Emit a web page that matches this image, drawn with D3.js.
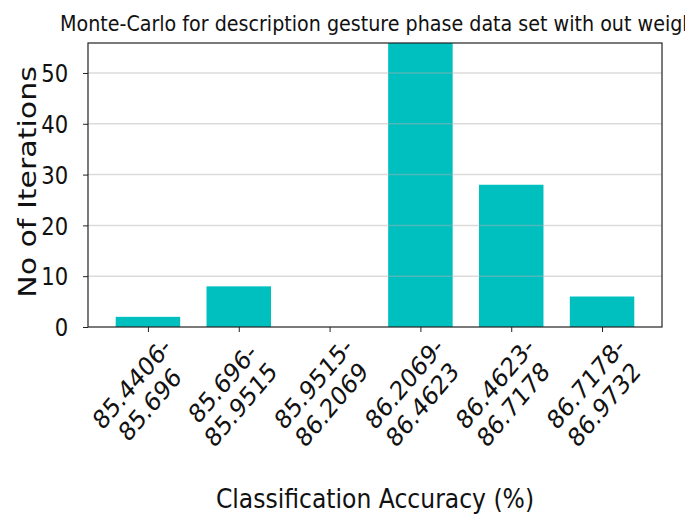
<!DOCTYPE html>
<html>
<head>
<meta charset="utf-8">
<script src="https://cdn.jsdelivr.net/npm/d3@7"></script>
<style>
  body { margin: 0; background: #fff; }
  svg { display: block; font-family: "DejaVu Sans", sans-serif; }
</style>
</head>
<body>
<div id="chart"></div>
<script>
// bins of classification accuracy and how many iterations fell in each
const binStarts = ["85.4406", "85.696", "85.9515", "86.2069", "86.4623", "86.7178"];
const binEnds = ["85.696", "85.9515", "86.2069", "86.4623", "86.7178", "86.9732"];
const counts = [2, 8, 0, 56, 28, 6];
const yTicks = [0, 10, 20, 30, 40, 50];

const width = 685, height = 518;
const margins = { top: 43, right: 23, bottom: 191, left: 88 };
const barColor = "#00bfbf";

const svg = d3.select("#chart")
    .append("svg")
    .attr("width", width)
    .attr("height", height);

const x = d3.scaleLinear()
    .domain([-0.66, counts.length - 1 + 0.66])
    .range([margins.left, width - margins.right]);
const y = d3.scaleLinear()
    .domain([0, 55.9])
    .range([height - margins.bottom, margins.top]);

const barW = 0.71;
const capped = d => Math.min(d, y.domain()[1]);

// bars
svg.append("g")
    .selectAll("rect")
    .data(counts)
    .join("rect")
    .attr("x", (d, i) => x(i - barW / 2))
    .attr("y", d => y(capped(d)))
    .attr("width", x(barW) - x(0))
    .attr("height", d => y(0) - y(capped(d)))
    .attr("fill", barColor);

// grid lines drawn over the bars
svg.append("g")
    .selectAll("line")
    .data(yTicks.filter(d => d > 0))
    .join("line")
    .attr("x1", margins.left)
    .attr("x2", width - margins.right)
    .attr("y1", d => y(d))
    .attr("y2", d => y(d))
    .attr("stroke", "#b0b0b0")
    .attr("stroke-opacity", 0.45)
    .attr("stroke-width", 1.5);

// frame
svg.append("rect")
    .attr("x", margins.left)
    .attr("y", margins.top)
    .attr("width", width - margins.right - margins.left)
    .attr("height", height - margins.bottom - margins.top)
    .attr("fill", "none")
    .attr("stroke", "#222")
    .attr("stroke-width", 1.2);

// y axis
const gy = svg.append("g")
    .attr("transform", `translate(${margins.left},0)`)
    .call(d3.axisLeft(y).tickValues(yTicks).tickSize(5).tickPadding(4))
    .call(g => g.select(".domain").remove());
gy.selectAll(".tick line").attr("stroke", "#222");
gy.selectAll(".tick text")
    .attr("font-size", 24)
    .attr("fill", "#111")
    .attr("font-family", "DejaVu Sans")
    .attr("transform", "translate(-12,0) scale(0.88,1)")
    .attr("dy", "0.36em");

// x axis tick marks
const gx = svg.append("g")
    .attr("transform", `translate(0,${height - margins.bottom})`)
    .call(d3.axisBottom(x).tickValues(d3.range(counts.length)).tickSize(5).tickFormat(""))
    .call(g => g.select(".domain").remove());
gx.selectAll(".tick line").attr("stroke", "#222");

// rotated two-line tick labels
const labels = svg.append("g")
    .selectAll("g")
    .data(binStarts)
    .join("g")
    .attr("transform", (d, i) => `translate(${x(i) - 7},394) scale(0.85,1) rotate(-45)`)
    .attr("font-size", 26)
    .attr("fill", "#111")
    .attr("text-anchor", "middle");
labels.append("text")
    .attr("y", -15)
    .attr("dy", "0.35em")
    .text(d => d + "-");
labels.append("text")
    .attr("y", 15)
    .attr("dy", "0.35em")
    .text((d, i) => binEnds[i]);

// axis titles
svg.append("text")
    .attr("transform", "translate(375,508) scale(0.87,1)")
    .attr("text-anchor", "middle")
    .attr("font-size", 27)
    .attr("fill", "#111")
    .text("Classification Accuracy (%)");

svg.append("text")
    .attr("transform", "translate(36,182) scale(0.8,1) rotate(-90)")
    .attr("text-anchor", "middle")
    .attr("font-size", 30)
    .attr("fill", "#111")
    .text("No of Iterations");

// title (runs off the right edge in the original)
svg.append("text")
    .attr("transform", "translate(60,31) scale(0.91,1)")
    .attr("font-size", 21)
    .attr("fill", "#111")
    .text("Monte-Carlo for description gesture phase data set with out weight");
</script>
</body>
</html>
